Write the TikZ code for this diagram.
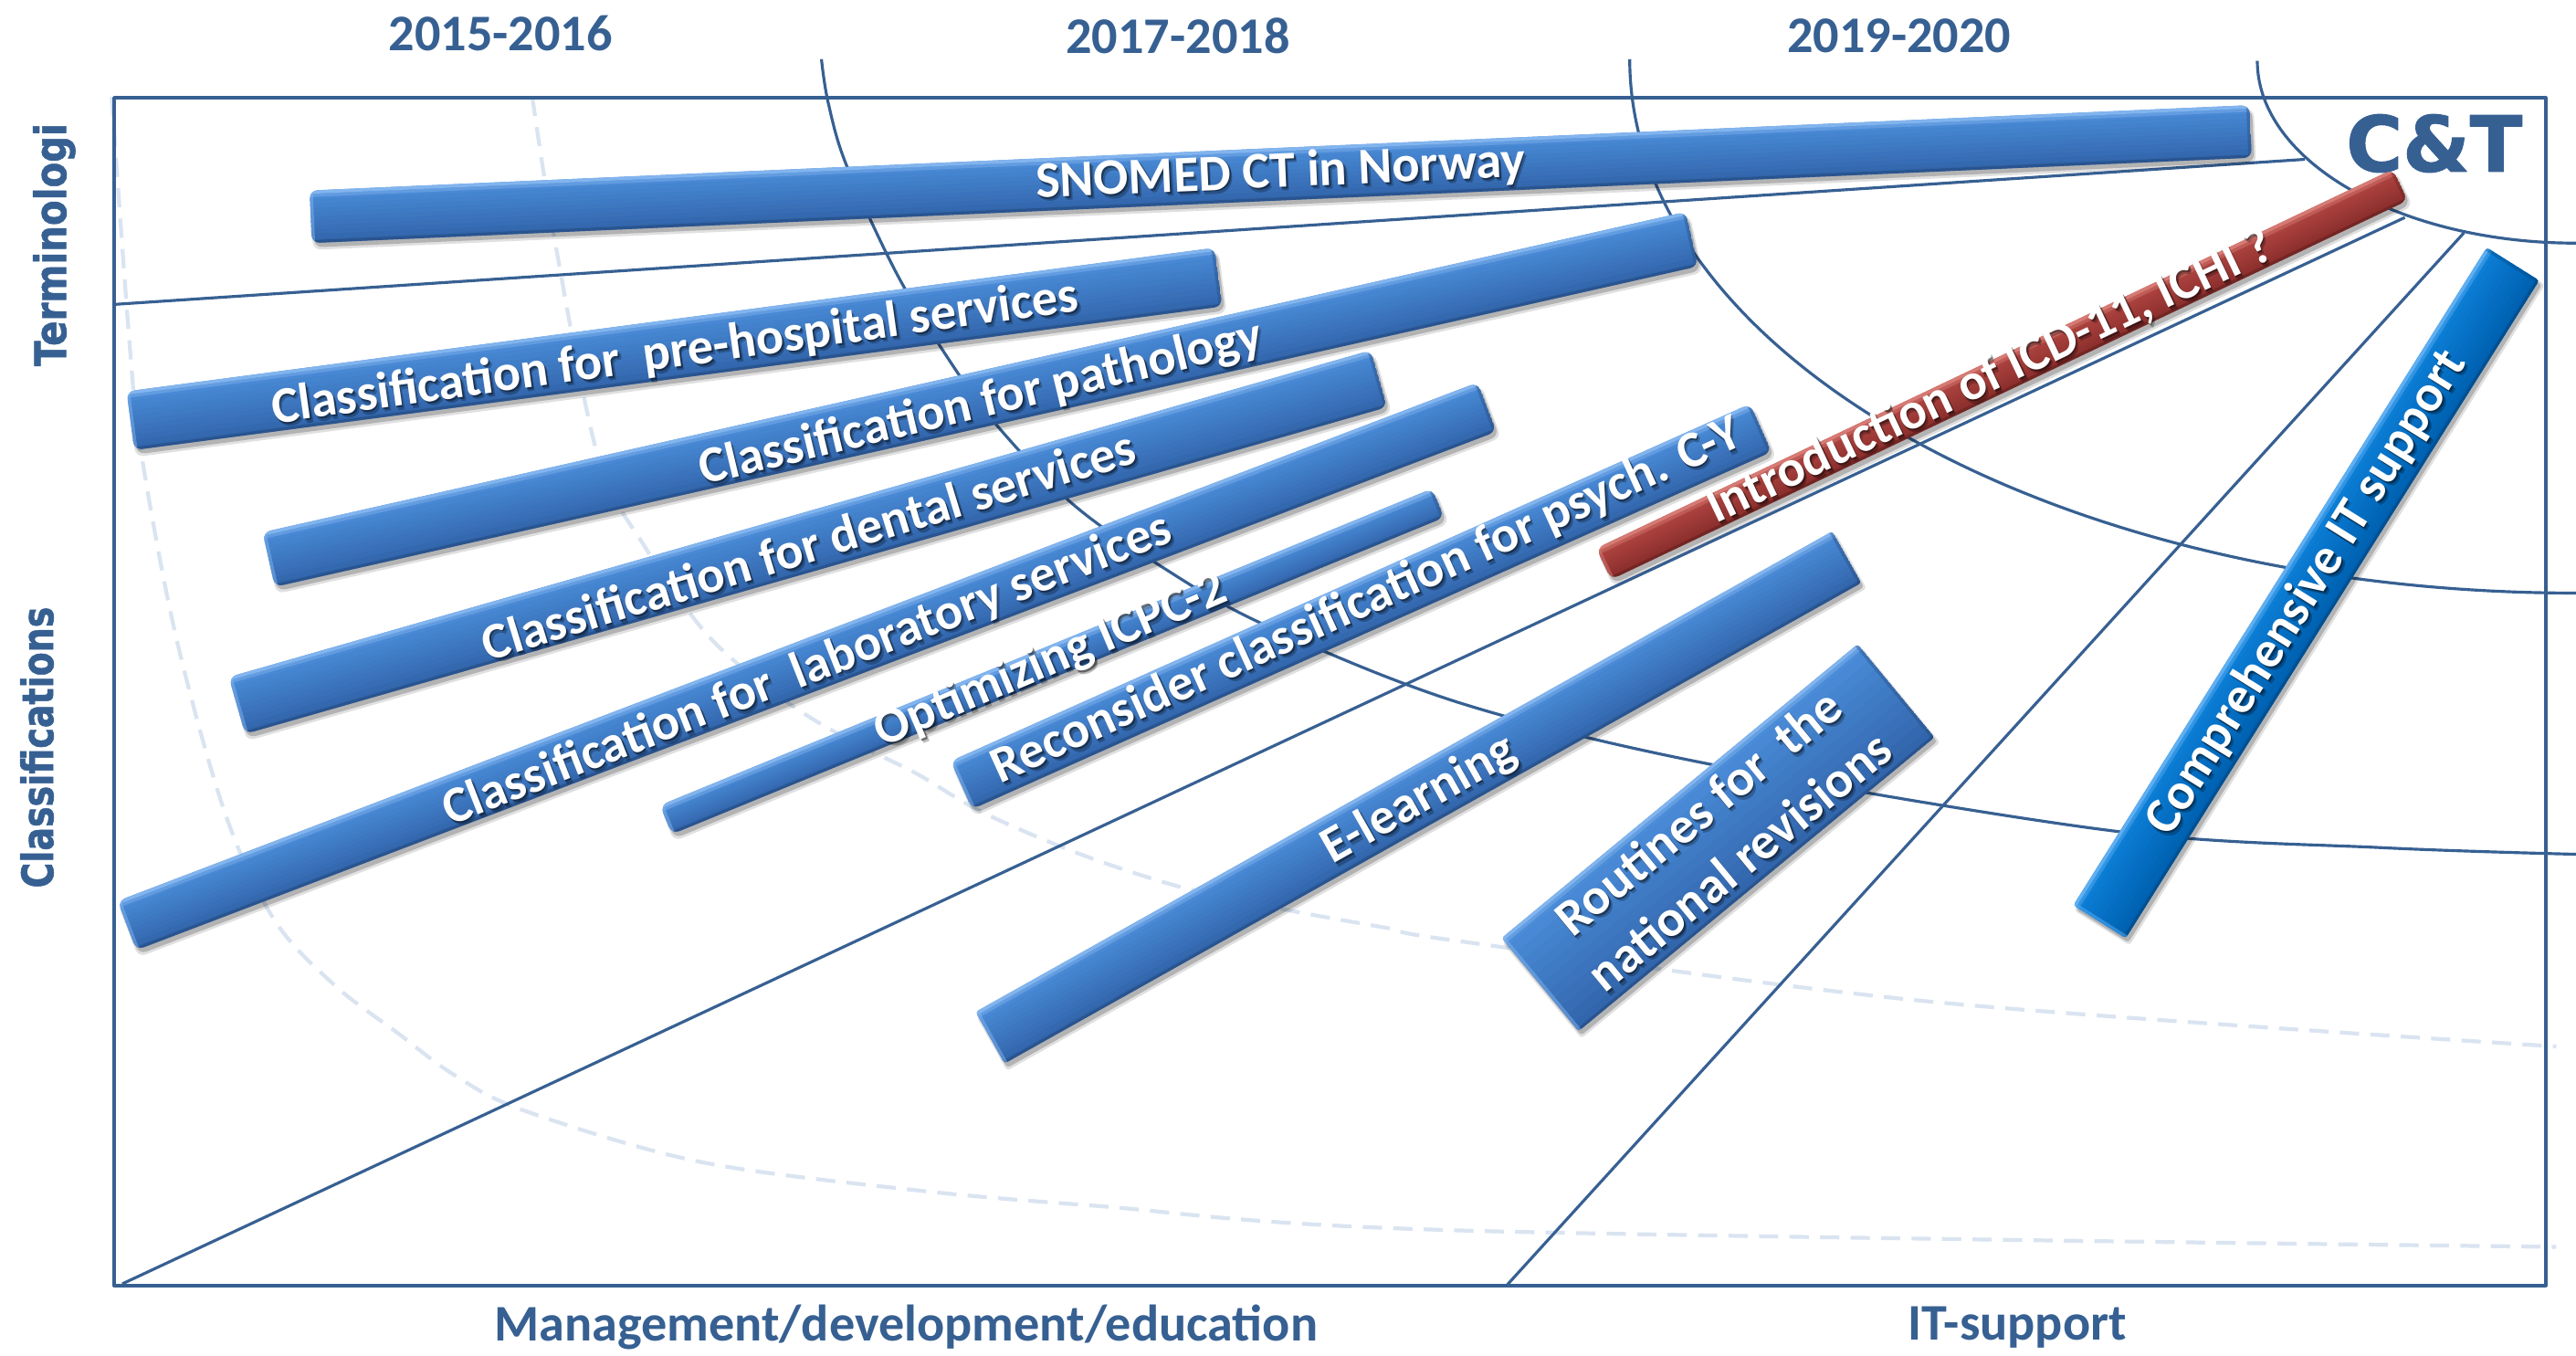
\documentclass[tikz,border=0pt]{standalone}
\usepackage{fontspec}
\setmainfont{Carlito}
\newfontfamily\heavyfont{DejaVu Sans}[BoldFeatures={FakeBold=1.3}]
\usetikzlibrary{calc}
\definecolor{mainblue}{RGB}{55,96,146}
\definecolor{dashc}{RGB}{218,228,241}
\definecolor{blhi}{RGB}{130,180,238}
\definecolor{blA}{RGB}{74,140,216}
\definecolor{blB}{RGB}{50,102,172}
\definecolor{cyhi}{RGB}{95,175,242}
\definecolor{cyA}{RGB}{12,128,216}
\definecolor{cyB}{RGB}{0,96,176}
\definecolor{rdhi}{RGB}{214,122,116}
\definecolor{rdA}{RGB}{178,70,66}
\definecolor{rdB}{RGB}{138,46,44}
\tikzset{
  ln/.style={draw=mainblue, line width=0.9pt},
  frm/.style={draw=mainblue, line width=1.1pt},
  dsh/.style={draw=dashc, line width=1.2pt, dash pattern=on 6pt off 3.5pt},
  bartext/.style={text=white, font=\fontsize{16}{20}\selectfont\bfseries, inner sep=0pt},
  hdr/.style={text=mainblue, font=\fontsize{16}{18}\selectfont\bfseries, inner sep=0pt},
  sidelbl/.style={text=mainblue, inner sep=0pt, rotate=90}
}
% #1 cx, #2 cy, #3 angle, #4 length, #5 thickness, #6 colour prefix, #7 corner radius
\newcommand{\gbar}[7]{%
  \pgfmathsetmacro\bhl{#4/2}%
  \pgfmathsetmacro\bht{#5/2}%
  \begin{scope}[shift={(#1+1.6,#2+2.6)}, rotate=#3]
    \fill[black, opacity=0.12, rounded corners=#7] (-\bhl-1,-\bht-0.5) rectangle (\bhl+1,\bht+1.5);
    \fill[black, opacity=0.2, rounded corners=#7] (-\bhl,-\bht) rectangle (\bhl,\bht);
  \end{scope}
  \begin{scope}[shift={(#1,#2)}, rotate=#3]
    \clip[rounded corners=#7] (-\bhl,-\bht) rectangle (\bhl,\bht);
    \foreach \k in {0,...,11}{%
      \pgfmathsetmacro\bya{-\bht+\k*#5/12}%
      \pgfmathsetmacro\byb{\bya+#5/12+0.5}%
      \pgfmathtruncatemacro\bpp{100-\k*100/11}%
      \fill[#6A!\bpp!#6B] (-\bhl,\bya) rectangle (\bhl,\byb);
    }
    \fill[#6hi] (-\bhl,-\bht) rectangle (\bhl,-\bht+2);
    \fill[#6hi, opacity=0.45] (-\bhl,-\bht+2) rectangle (\bhl,-\bht+4);
    \fill[#6B!70!black, opacity=0.55] (-\bhl,\bht-1.8) rectangle (\bhl,\bht);
    \fill[#6hi, opacity=0.5] (-\bhl,-\bht) rectangle (-\bhl+2,\bht);
    \fill[#6B!70!black, opacity=0.35] (\bhl-2,-\bht) rectangle (\bhl,\bht);
  \end{scope}}
% white bar text with a soft shadow: [options] name, x, y, angle, text
\newcommand{\btext}[6][]{%
  \node[bartext, #1, text=black, opacity=0.25, rotate=#5] (#2sa) at (#3+1.9,#4+2.3) {#6};
  \node[bartext, #1, text=black, opacity=0.4, rotate=#5] (#2sb) at (#3+0.9,#4+1.1) {#6};
  \node[bartext, #1, rotate=#5] (#2) at (#3,#4) {#6};}
\begin{document}
\begin{tikzpicture}[x=0.01799cm, y=-0.01799cm, line join=round]
\useasboundingbox (0,0) rectangle (1568,825);
\fill[white] (0,0) rectangle (1568,825);

% light dashed arcs
\draw[dsh] plot[smooth, tension=0.55] coordinates {(324,59) (338,148) (364,278) (392,332) (432,388) (480,428) (520,452) (557.7,470.8) (598.5,494.7) (659.6,520.7) (722.6,541) (787.5,554.7) (845,565) (889,573) (1178,610) (1556,637)};
\draw[dsh] plot[smooth, tension=0.55] coordinates {(68,59) (79,211) (86,276) (107,387) (137,495) (167,560) (204,600) (241,628) (276,654) (319,676) (425,707) (553,724) (667,734) (889,749) (1556,759)};

% solid arcs
\draw[ln] (1374,37) arc[start angle=180, end angle=90, x radius=194, y radius=111];
\draw[ln] (992,36) arc[start angle=180, end angle=90, x radius=576, y radius=325];
\draw[ln] plot[smooth, tension=0.55] coordinates {(500,36) (504,62) (515,100) (545,165) (575,215) (606,258) (652,306) (704,343) (769,380) (889,428) (1045,466) (1288,506) (1450,516) (1568,520)};

% straight lines
\draw[ln] (69.5,185.3) -- (1403,97);
\draw[ln] (74.4,781.5) -- (1463.8,132.4);
\draw[ln] (917.5,782) -- (1499.8,141.7);

% frame
\draw[frm] (69.5,59.5) rectangle (1549.4,782.5);

% headers
\node[hdr] (h1) at (304.7,20.5) {2015-2016};
\node[hdr] (h2) at (717,22) {2017-2018};
\node[hdr] (h3) at (1156,22) {2019-2020};
\node[hdr] (b1) at (551.5,808) {Management/development/education};
\node[hdr] (b2) at (1228,808) {IT-support};
\node[sidelbl] (s1) at (33,149) {\scalebox{0.85}[1]{\heavyfont\bfseries\fontsize{13.5}{15}\selectfont Terminologi}};
\node[sidelbl] (s2) at (22.5,455) {\scalebox{0.8}[1]{\heavyfont\bfseries\fontsize{13.5}{15}\selectfont Classifications}};
\node[text=mainblue, inner sep=0pt] (ct) at (1481.7,87.3) {\heavyfont\bfseries\fontsize{24}{26}\selectfont C\&T};

% bars
\gbar{779.5}{106}{2.52}{1182}{32}{bl}{2.5pt}
\btext{t1}{779.5}{105.5}{2.5}{SNOMED CT in Norway}

\gbar{410.5}{212.4}{7.52}{668}{36}{bl}{2.5pt}
\btext{t2}{411}{215}{8}{Classification for\ \ pre-hospital services}

\gbar{596.7}{243.1}{12.69}{888}{34}{bl}{2.5pt}
\btext{t3}{597}{246}{13.5}{Classification for pathology}

\gbar{491.8}{330}{15.97}{723}{36}{bl}{2.5pt}
\btext{t4}{492}{331.5}{17}{Classification for dental services}

\gbar{491.2}{405.6}{20.87}{886}{32}{bl}{2.5pt}
\btext{t5}{491.5}{408}{21.5}{Classification for\ \ laboratory services}

\gbar{640.4}{402.6}{22.3}{508}{19}{bl}{2.5pt}
\btext[anchor=base]{t6}{643}{410}{23}{Optimizing ICPC-2}

\gbar{828.5}{369.2}{24.08}{533}{32}{bl}{2.5pt}
\btext{t7}{832}{366}{24.5}{Reconsider classification for psych. C-Y}

\gbar{1218.6}{227.9}{25.45}{537}{21}{rd}{2.5pt}
\btext[anchor=base]{t8}{1215}{237.5}{25.5}{Introduction of ICD-11, ICHI ?}

\gbar{863.4}{485.4}{29.29}{598}{36}{bl}{1pt}
\btext{t9}{864}{487}{29.5}{E-learning}

\gbar{1045.8}{509.9}{39.54}{281}{73.5}{bl}{1pt}
\btext[align=center]{t10}{1046}{509}{39.5}{Routines for\ \ the\\national revisions}

\gbar{1403.8}{360.9}{57.85}{473}{37.7}{cy}{1pt}
\btext{t11}{1404}{361}{58}{Comprehensive IT support}

\end{tikzpicture}
\end{document}
